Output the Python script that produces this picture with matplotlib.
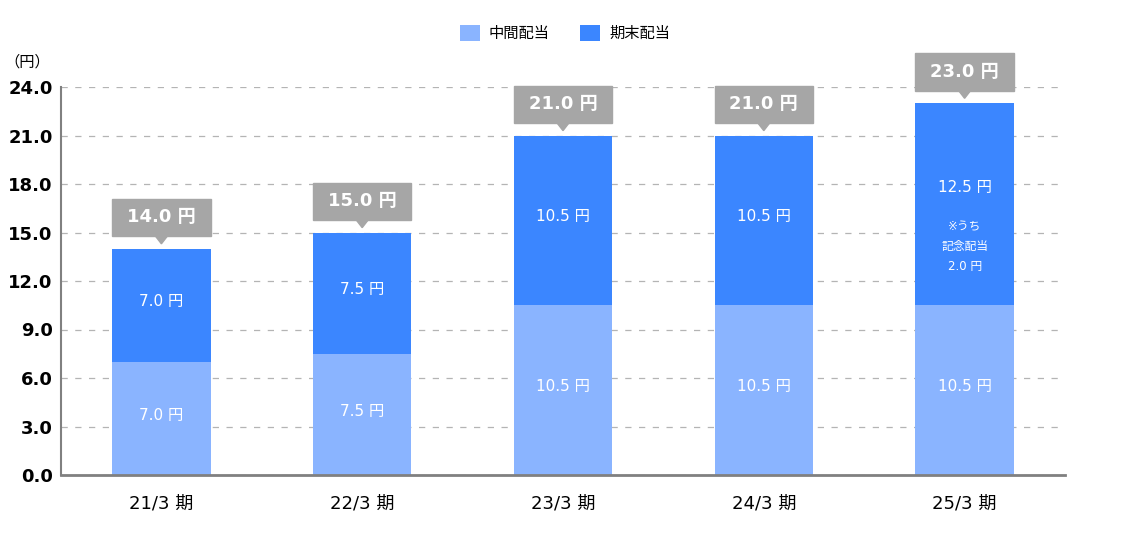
import numpy as np
import matplotlib.pyplot as plt
from matplotlib.patches import Rectangle, Polygon

plt.rcParams['font.family'] = ['DejaVu Sans', 'Noto Sans CJK JP']

categories = ["21/3 期", "22/3 期", "23/3 期", "24/3 期", "25/3 期"]
interim = [7.0, 7.5, 10.5, 10.5, 10.5]
year_end = [7.0, 7.5, 10.5, 10.5, 12.5]
totals = [14.0, 15.0, 21.0, 21.0, 23.0]
series_names = ["中間配当", "期末配当"]
yticks = [0, 3, 6, 9, 12, 15, 18, 21, 24]
note_lines = ["※うち", "記念配当", "2.0 円"]

c_light = "#8ab4ff"
c_dark = "#3b86ff"
c_box = "#a6a6a6"

fig = plt.figure(figsize=(11.3, 5.38), dpi=100)
ax = fig.add_axes([61 / 1130, 63 / 538, 1004 / 1130, 388 / 538])

x = np.arange(len(categories))
w = 0.49
ax.bar(x, interim, width=w, color=c_light, label=series_names[0], zorder=2)
ax.bar(x, year_end, width=w, bottom=interim, color=c_dark, label=series_names[1], zorder=2)

for i in range(len(categories)):
    ax.text(x[i], interim[i] / 2 + 0.2, f"{interim[i]:.1f} 円", color="white",
            ha="center", va="center", fontsize=11, zorder=3)
    if i == len(categories) - 1:
        # last bar: label sits higher, with the commemorative note below
        ax.text(x[i], 17.8, f"{year_end[i]:.1f} 円", color="white",
                ha="center", va="center", fontsize=11, zorder=3)
        for k, line in enumerate(note_lines):
            ax.text(x[i], 15.35 - 1.22 * k, line, color="white",
                    ha="center", va="center", fontsize=8.5, zorder=3)
    else:
        ax.text(x[i], interim[i] + year_end[i] / 2 + 0.22, f"{year_end[i]:.1f} 円",
                color="white", ha="center", va="center", fontsize=11, zorder=3)

    # callout above bar
    top = totals[i]
    tip = top + 0.3
    base = top + 0.78
    h = 2.3
    ax.add_patch(Rectangle((x[i] - w / 2, base), w, h, color=c_box,
                           clip_on=False, zorder=4))
    ax.add_patch(Polygon([[x[i] - 0.03, base], [x[i] + 0.03, base], [x[i], tip]],
                         closed=True, color=c_box, clip_on=False, zorder=4))
    ax.text(x[i], base + h / 2, f"{top:.1f} 円", color="white", fontweight="bold",
            ha="center", va="center", fontsize=13, zorder=5, clip_on=False)

ax.set_xlim(-0.5, len(categories) - 0.5)
ax.set_ylim(0, 24)
ax.set_yticks(yticks)
ax.set_yticklabels([f"{v:.1f}" for v in yticks], fontweight="bold", fontsize=13)
ax.set_xticks(x)
ax.set_xticklabels(categories, fontsize=13)
ax.tick_params(axis="both", length=0)
ax.tick_params(axis="x", pad=14)
ax.tick_params(axis="y", pad=6)

ax.yaxis.grid(True, linestyle=(0, (5, 6)), color="#b4b4b4", linewidth=0.9, zorder=0)
ax.set_axisbelow(True)
for s in ["top", "right"]:
    ax.spines[s].set_visible(False)
ax.spines["left"].set_color("#808080")
ax.spines["left"].set_linewidth(1.5)
ax.spines["bottom"].set_color("#808080")
ax.spines["bottom"].set_linewidth(2)

fig.text(27 / 1130, 1 - 62 / 538, "（円）", fontsize=11, ha="center", va="center")

fig.legend(loc="center", bbox_to_anchor=(565 / 1130, 1 - 33 / 538), ncol=2,
           frameon=False, fontsize=11, handlelength=1.3, handleheight=1.3,
           columnspacing=2.0, handletextpad=0.6)

fig.savefig("out.png", dpi=100)
